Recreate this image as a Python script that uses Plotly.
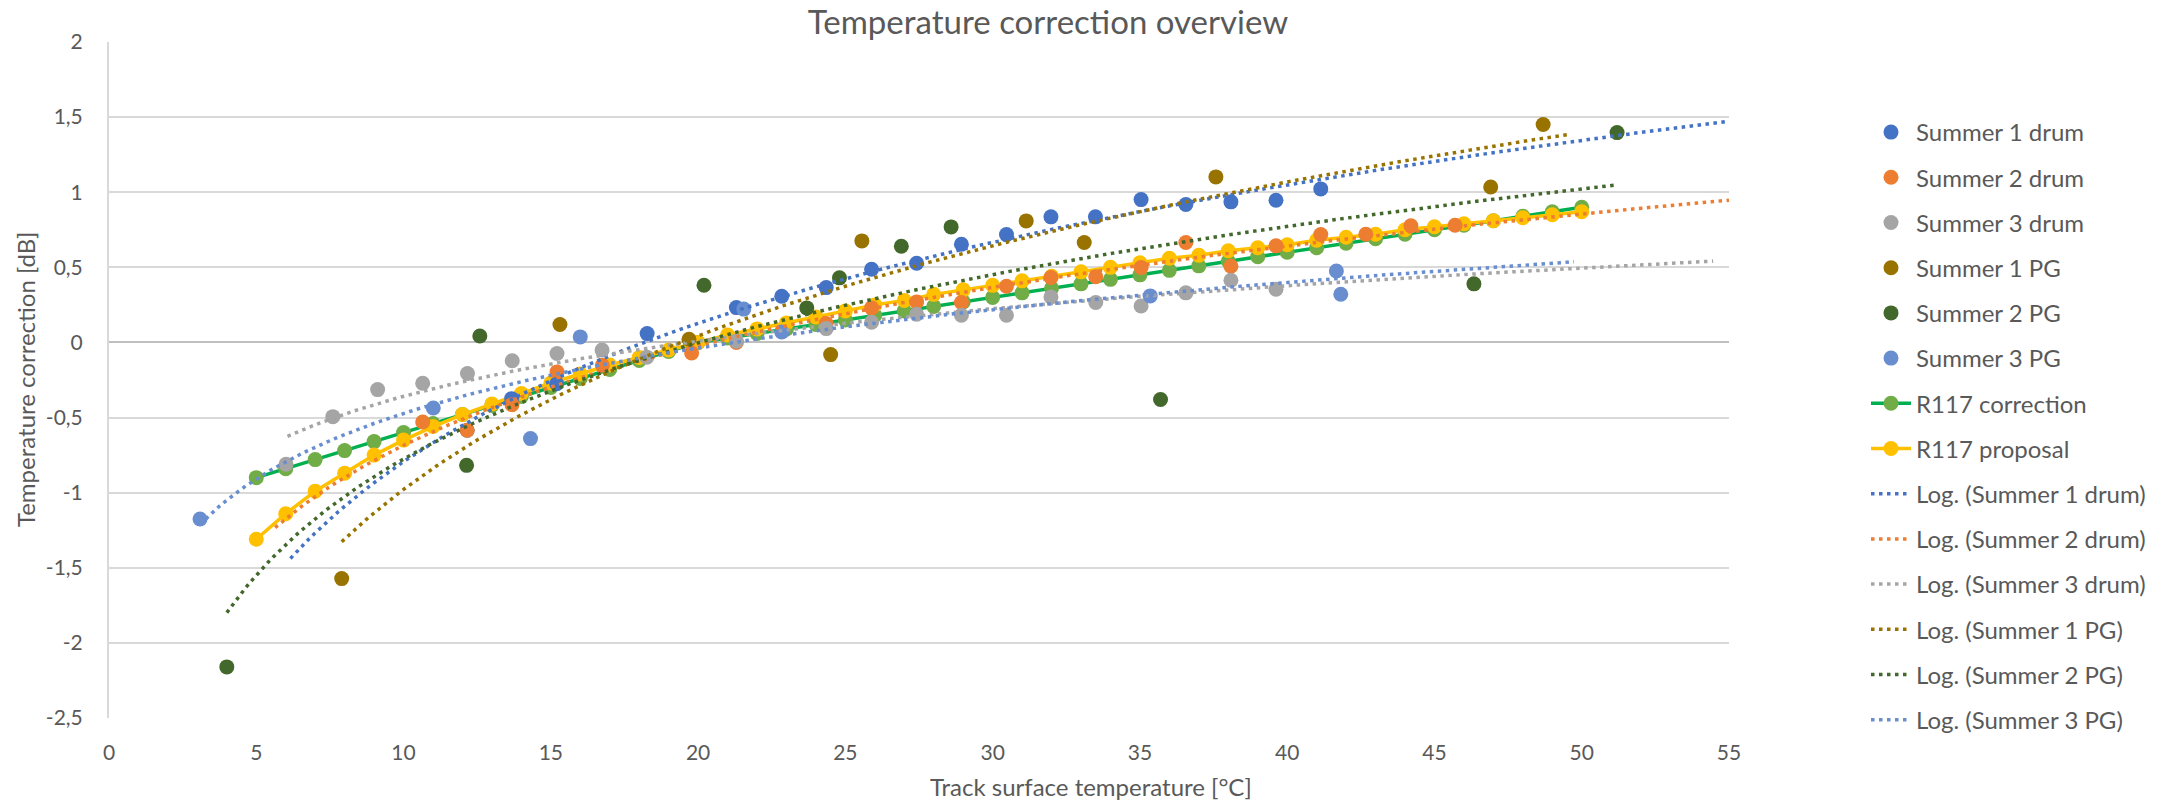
import numpy as np
import plotly.graph_objects as go

# ---------------- data ----------------
s1_drum_x = [12.16, 13.67, 15.2, 18.27, 21.3, 22.84, 24.35, 25.89, 27.42, 28.94, 30.47, 31.98, 33.49, 35.04, 36.56, 38.09, 39.62, 41.14]
s1_drum_y = [-0.585, -0.374, -0.275, 0.059, 0.232, 0.308, 0.365, 0.487, 0.527, 0.654, 0.718, 0.836, 0.836, 0.951, 0.918, 0.936, 0.947, 1.022]

s2_drum_x = [10.65, 12.16, 13.68, 15.21, 16.75, 19.78, 21.3, 24.35, 25.89, 27.42, 28.94, 30.47, 31.98, 33.5, 35.04, 36.56, 38.09, 39.62, 41.14, 42.67, 44.2, 45.7]
s2_drum_y = [-0.53, -0.585, -0.414, -0.196, -0.152, -0.07, 0.0, 0.126, 0.23, 0.27, 0.266, 0.374, 0.432, 0.437, 0.499, 0.665, 0.507, 0.643, 0.718, 0.72, 0.776, 0.78]

s3_drum_x = [6.01, 7.6, 9.12, 10.65, 12.17, 13.69, 15.21, 16.74, 18.26, 21.3, 24.35, 25.89, 27.42, 28.94, 30.47, 31.98, 33.5, 35.04, 36.56, 38.09, 39.62]
s3_drum_y = [-0.811, -0.494, -0.314, -0.272, -0.207, -0.122, -0.074, -0.05, -0.098, 0.008, 0.092, 0.134, 0.188, 0.181, 0.181, 0.303, 0.266, 0.243, 0.33, 0.414, 0.354]

s1_pg_x = [7.9, 15.31, 19.69, 24.5, 25.56, 31.14, 33.11, 37.58, 46.91, 48.69]
s1_pg_y = [-1.572, 0.119, 0.021, -0.081, 0.676, 0.809, 0.665, 1.102, 1.035, 1.451]

s2_pg_x = [4.0, 12.14, 12.59, 20.2, 23.69, 24.8, 26.9, 28.59, 35.7, 46.34, 51.2]
s2_pg_y = [-2.16, -0.818, 0.043, 0.381, 0.23, 0.43, 0.64, 0.769, -0.38, 0.39, 1.397]

s3_pg_x = [3.09, 11.01, 14.31, 16.0, 21.55, 22.84, 35.35, 41.67, 41.82]
s3_pg_y = [-1.175, -0.436, -0.64, 0.037, 0.222, 0.07, 0.31, 0.476, 0.321]

r117_x = [5, 6, 7, 8, 9, 10, 11, 12, 13, 14, 15, 16, 17, 18, 19, 20, 21, 22, 23, 24, 25, 26, 27,
          28, 29, 30, 31, 32, 33, 34, 35, 36, 37, 38, 39, 40, 41, 42, 43, 44, 45, 46, 47, 48, 49, 50]
r117_correction = [-0.9, -0.84, -0.78, -0.72, -0.66, -0.6, -0.54, -0.48, -0.42, -0.36, -0.3, -0.24,
                   -0.18, -0.12, -0.06, 0.0, 0.03, 0.06, 0.09, 0.12, 0.15, 0.18, 0.21, 0.24, 0.27,
                   0.3, 0.33, 0.36, 0.39, 0.42, 0.45, 0.48, 0.51, 0.54, 0.57, 0.6, 0.63, 0.66, 0.69,
                   0.72, 0.75, 0.78, 0.81, 0.84, 0.87, 0.9]
r117_proposal = [-1.31, -1.14, -0.99, -0.87, -0.75, -0.65, -0.56, -0.48, -0.41, -0.34, -0.27, -0.21,
                 -0.15, -0.10, -0.05, 0.0, 0.05, 0.09, 0.13, 0.17, 0.21, 0.25, 0.28, 0.32, 0.35,
                 0.38, 0.41, 0.44, 0.47, 0.50, 0.53, 0.56, 0.58, 0.61, 0.63, 0.65, 0.68, 0.70, 0.72,
                 0.75, 0.77, 0.79, 0.81, 0.83, 0.85, 0.87]

# trendline extents (x range drawn by the spreadsheet, incl. forecast)
trend_start = [6.16, 5.64, 6.06, 7.9, 4.0, 3.09]
trend_end = [55.0, 55.0, 54.46, 49.57, 51.1, 49.74]

series_names = ["Summer 1 drum", "Summer 2 drum", "Summer 3 drum", "Summer 1 PG", "Summer 2 PG", "Summer 3 PG"]
y_ticks = [-2.5, -2, -1.5, -1, -0.5, 0, 0.5, 1, 1.5, 2]
y_ticktext = ["-2,5", "-2", "-1,5", "-1", "-0,5", "0", "0,5", "1", "1,5", "2"]

# ---------------- styling ----------------
colors = ["#4472C4", "#ED7D31", "#A5A5A5", "#997300", "#43682B", "#698ED0"]
FONT = "Lato"
TXT = "#595959"
W, H = 2162, 801
L, R, T, B = 109, 432, 42, 83

series = [(s1_drum_x, s1_drum_y), (s2_drum_x, s2_drum_y), (s3_drum_x, s3_drum_y),
          (s1_pg_x, s1_pg_y), (s2_pg_x, s2_pg_y), (s3_pg_x, s3_pg_y)]

fig = go.Figure()

# R117 lines (drawn underneath the measured points)
fig.add_trace(go.Scatter(x=r117_x, y=r117_correction, mode="lines+markers", name="R117 correction",
                         line=dict(color="#00B050", width=3.5),
                         marker=dict(color="#70AD47", size=15),
                         legendrank=7, legendgroup="g7"))
fig.add_trace(go.Scatter(x=r117_x, y=r117_proposal, mode="lines+markers", name="R117 proposal",
                         line=dict(color="#FFC000", width=3.5),
                         marker=dict(color="#FFC000", size=15),
                         legendrank=8, legendgroup="g8"))

for i, ((xs, ys), nm, c) in enumerate(zip(series, series_names, colors)):
    fig.add_trace(go.Scatter(x=xs, y=ys, mode="markers", name=nm,
                             marker=dict(color=c, size=15),
                             legendrank=i + 1, legendgroup=f"g{i+1}"))

for i, ((xs, ys), nm, c) in enumerate(zip(series, series_names, colors)):
    a, b = np.polyfit(np.log(np.array(xs)), np.array(ys), 1)
    tx = np.linspace(trend_start[i], trend_end[i], 300)
    ty = a * np.log(tx) + b
    fig.add_trace(go.Scatter(x=tx, y=ty, mode="lines", name=f"Log. ({nm})",
                             line=dict(color=c, width=3.5, dash="3.5px,4.5px"),
                             legendrank=9 + i, legendgroup=f"g{9+i}"))

fig.update_layout(
    width=W, height=H,
    margin=dict(l=L, r=R, t=T, b=B),
    paper_bgcolor="white", plot_bgcolor="white",
    separators=", ",
    font=dict(family=FONT, color=TXT, size=20),
    title=dict(text="Temperature correction overview", x=1048 / W, xref="container", xanchor="center",
               y=1 - 22 / H, yref="container", yanchor="middle",
               font=dict(family=FONT, size=33, color=TXT)),
    showlegend=True,
    legend=dict(x=(1866 - L) / (W - L - R), xanchor="left", y=(H - B - 110) / (H - T - B), yanchor="top",
                font=dict(family=FONT, size=24, color=TXT), traceorder="grouped",
                tracegroupgap=11, itemwidth=40, bgcolor="rgba(0,0,0,0)"),
    xaxis=dict(range=[0, 55], dtick=5, tick0=0, showgrid=False, zeroline=False,
               showline=False, ticks="", ticklabelstandoff=20,
               tickfont=dict(family=FONT, size=21, color=TXT)),
    yaxis=dict(range=[-2.5, 2], tickvals=y_ticks, ticktext=y_ticktext, showgrid=True,
               gridcolor="#D9D9D9", gridwidth=2, zeroline=True, zerolinecolor="#BFBFBF",
               zerolinewidth=2, showline=True, linecolor="#D9D9D9", linewidth=2,
               ticks="", ticklabelstandoff=20,
               tickfont=dict(family=FONT, size=21, color=TXT)),
    annotations=[
        dict(text="Track surface temperature [°C]", xref="paper", yref="paper",
             x=(1092 - L) / (W - L - R), y=-(786 - (H - B)) / (H - T - B), xanchor="center", yanchor="middle",
             showarrow=False, font=dict(family=FONT, size=24, color=TXT)),
        dict(text="Temperature correction [dB]", xref="paper", yref="paper",
             x=-(L - 25) / (W - L - R), y=0.5, xanchor="center", yanchor="middle", textangle=-90,
             showarrow=False, font=dict(family=FONT, size=24, color=TXT)),
    ],
)

fig.write_html("out.html")
